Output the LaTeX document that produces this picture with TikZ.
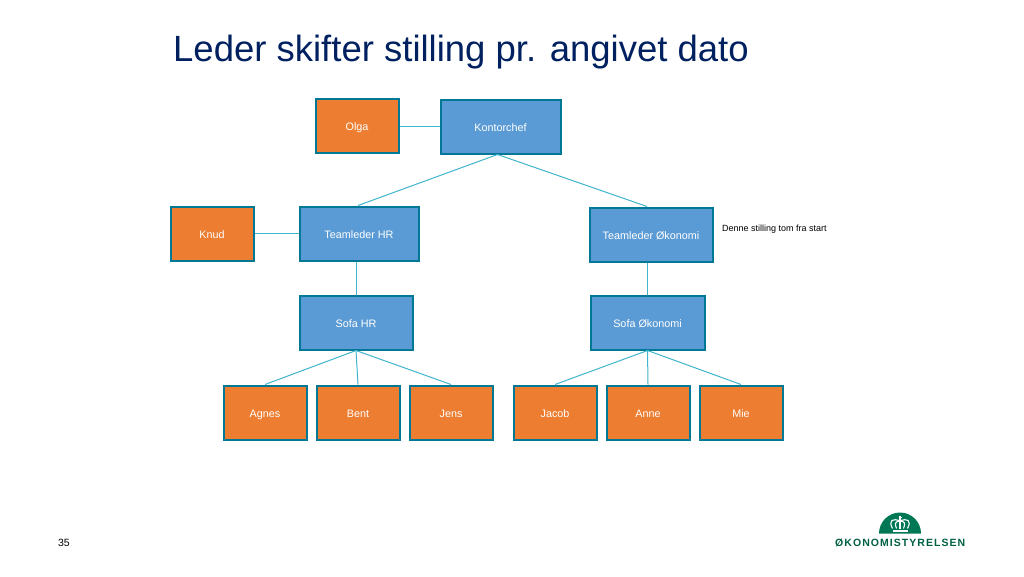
\documentclass[tikz,border=0pt]{standalone}
\usepackage{fontspec}
\setmainfont{Liberation Sans}
\newfontfamily\logofont[LetterSpace=10]{Liberation Sans}
\definecolor{titleblue}{RGB}{0,32,96}
\definecolor{boxblue}{RGB}{91,155,213}
\definecolor{boxorange}{RGB}{237,125,49}
\definecolor{boxline}{RGB}{0,120,150}
\definecolor{linkline}{RGB}{65,180,205}
\definecolor{logogreen}{RGB}{0,120,85}
\begin{document}
\begin{tikzpicture}[x=1pt,y=-1pt,font=\fontsize{10.8}{13}\selectfont,
  rolle/.style={draw=boxline,line width=2pt,fill=boxblue,text=white,inner sep=0pt,minimum height=54pt,text height=9pt,text depth=0pt},
  person/.style={draw=boxline,line width=2pt,fill=boxorange,text=white,inner sep=0pt,minimum width=83pt,minimum height=54pt,text height=9pt,text depth=0pt},
  link/.style={draw=linkline,line width=1pt},
  krone/.style={draw=white,line width=1.1pt}]
  \useasboundingbox (0,0) rectangle (1024,576);

  % Titel
  \node[text=titleblue,anchor=base west,inner sep=0pt,font=\fontsize{36.5}{40}\selectfont] (title) at (173,61) {Leder skifter stilling pr. angivet dato};

  % Knoten
  \node[person] (olga) at (357,125.5) {Olga};
  \node[rolle,minimum width=120pt] (kontor) at (500.5,126.5) {Kontorchef};
  \node[person] (knud) at (212,233.5) {Knud};
  \node[rolle,minimum width=119pt] (tlhr) at (359,233.5) {Teamleder HR};
  \node[rolle,minimum width=123pt] (tloek) at (651,234.5) {Teamleder Økonomi};
  \node[rolle,minimum width=113pt] (sofahr) at (356,322.5) {Sofa HR};
  \node[rolle,minimum width=114pt] (sofaoek) at (647.5,322.5) {Sofa Økonomi};
  \node[person] (agnes) at (265,412.5) {Agnes};
  \node[person] (bent) at (358,412.5) {Bent};
  \node[person] (jens) at (451,412.5) {Jens};
  \node[person] (jacob) at (555,412.5) {Jacob};
  \node[person] (anne) at (648,412.5) {Anne};
  \node[person] (mie) at (741,412.5) {Mie};
  \node[anchor=west,inner sep=0pt,font=\fontsize{9}{11}\selectfont] (note) at (722,229.5) {Denne stilling tom fra start};
  \node[anchor=base,inner sep=0pt,font=\fontsize{10.5}{12}\selectfont] (page) at (64,546) {35};

  % Linien
  \draw[link] (olga.east |- kontor.west) -- (kontor.west);
  \draw[link] (knud) -- (tlhr);
  \draw[link] ([xshift=-3pt]kontor.south) -- ([xshift=-1pt]tlhr.north);
  \draw[link] ([xshift=-3pt]kontor.south) -- ([xshift=-4pt]tloek.north);
  \draw[link] (sofahr.north) -- (sofahr.north |- tlhr.south);
  \draw[link] (sofaoek.north) -- (sofaoek.north |- tloek.south);
  \draw[link] (sofahr.south) -- (agnes.north);
  \draw[link] (sofahr.south) -- (bent.north);
  \draw[link] (sofahr.south) -- (jens.north);
  \draw[link] (sofaoek.south) -- (jacob.north);
  \draw[link] (sofaoek.south) -- (anne.north);
  \draw[link] (sofaoek.south) -- (mie.north);

  % Logo
  \fill[logogreen] (879,533.5) arc[start angle=180,end angle=360,radius=21] -- cycle;
  \draw[krone,line width=2pt] (892.5,530.5) -- (907.5,530.5);
  \draw[krone] (892.5,528.5) .. controls (888,520) and (893,518) .. (900,521);
  \draw[krone] (907.5,528.5) .. controls (912,520) and (907,518) .. (900,521);
  \draw[krone] (896.5,528.5) .. controls (894,523) and (896,521) .. (900,521);
  \draw[krone] (903.5,528.5) .. controls (906,523) and (904,521) .. (900,521);
  \draw[krone] (900,515.5) -- (900,528.5);
  \draw[krone,line width=0.8pt] (898.5,517) -- (901.5,517);
  \node[anchor=base west,inner sep=0pt,text=logogreen!80!black,font=\logofont\bfseries\fontsize{10.5}{12}\selectfont] (logotext) at (835,546) {ØKONOMISTYRELSEN};
\end{tikzpicture}
\end{document}
